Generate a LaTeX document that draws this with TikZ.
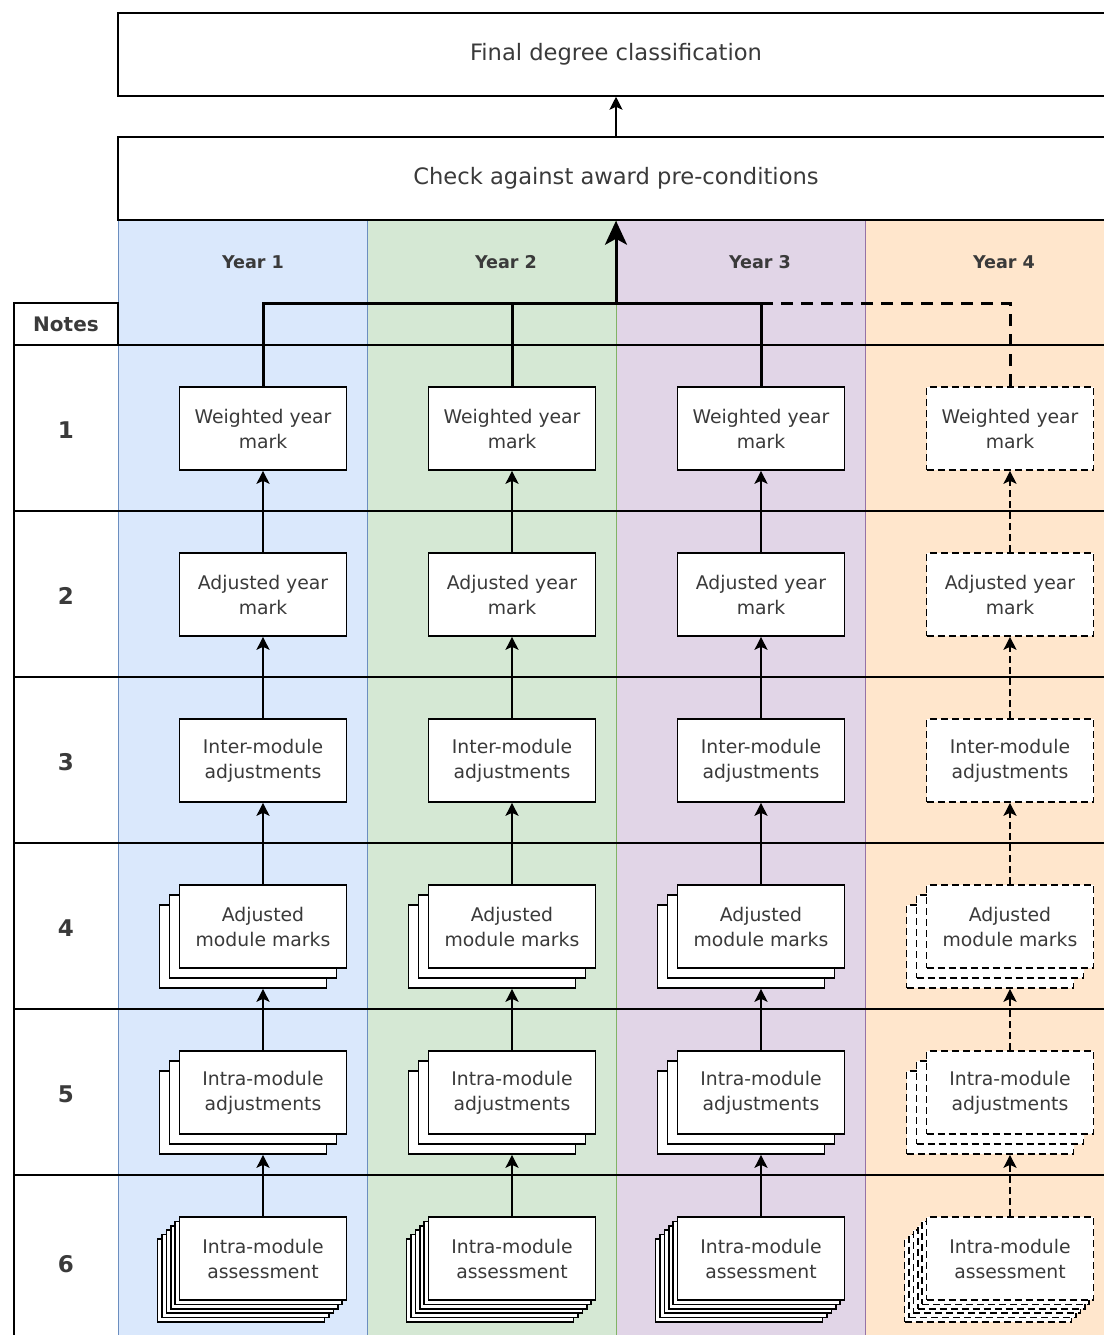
\documentclass[tikz,border=0pt]{standalone}
\usepackage{fontspec}
\setmainfont{DejaVu Sans}
\usetikzlibrary{arrows.meta,shadows}

\definecolor{yearAfill}{HTML}{DAE8FC}
\definecolor{yearAline}{HTML}{6C8EBF}
\definecolor{yearBfill}{HTML}{D5E8D4}
\definecolor{yearBline}{HTML}{82B366}
\definecolor{yearCfill}{HTML}{E1D5E7}
\definecolor{yearCline}{HTML}{9673A6}
\definecolor{yearDfill}{HTML}{FFE6CC}
\definecolor{yearDline}{HTML}{D79B00}
\definecolor{ink}{HTML}{3A3A3A}

\tikzset{
  markbox/.style={draw, fill=white, line width=0.8pt, minimum width=83.5pt,
    minimum height=41.5pt, inner sep=1pt, align=center, text=ink,
    font=\fontsize{9.4}{12.5}\selectfont},
  stackbox/.style={markbox,
    copy shadow={shadow xshift=-10pt, shadow yshift=-10pt},
    copy shadow={shadow xshift=-5pt, shadow yshift=-5pt}},
  pilebox/.style={markbox,
    copy shadow={shadow xshift=-11pt, shadow yshift=-11pt},
    copy shadow={shadow xshift=-8.8pt, shadow yshift=-8.8pt},
    copy shadow={shadow xshift=-6.6pt, shadow yshift=-6.6pt},
    copy shadow={shadow xshift=-4.4pt, shadow yshift=-4.4pt},
    copy shadow={shadow xshift=-2.2pt, shadow yshift=-2.2pt}},
  laterbox/.style={dash pattern=on 3.5pt off 2pt},
  uparrow/.style={line width=0.7pt, -{Stealth[length=6.5pt,width=6.5pt,inset=1.5pt]}},
  busline/.style={line width=1.5pt},
  bigbox/.style={draw, fill=white, line width=0.75pt, minimum width=498pt,
    minimum height=41.5pt, text=ink, font=\fontsize{11.3}{13}\selectfont},
  yearhead/.style={text=ink, font=\fontsize{8.8}{10}\selectfont\bfseries},
  rownum/.style={text=ink, font=\fontsize{11.5}{13}\selectfont\bfseries},
  gridline/.style={line width=0.7pt}
}

\begin{document}
\begin{tikzpicture}[x=0.5pt,y=-0.5pt]
        \useasboundingbox (0,0) rectangle (1104,1335);

        % year columns
        \draw[fill=yearDfill,draw=yearDline] (865,220) rectangle (1114,1345);
        \draw[fill=yearCfill,draw=yearCline] (616,220) rectangle (865,1345);
        \draw[fill=yearBfill,draw=yearBline] (367,220) rectangle (616,1345);
        \draw[fill=yearAfill,draw=yearAline] (118,220) rectangle (367,1345);

        \node[yearhead] (y1) at (253,262) {Year 1};
        \node[yearhead] (y2) at (506,262) {Year 2};
        \node[yearhead] (y3) at (760,262) {Year 3};
        \node[yearhead] (y4) at (1004,262) {Year 4};

        % notes table
        \node[draw, fill=white, line width=0.7pt, minimum width=52pt, minimum height=21pt,
              inner sep=0pt, text=ink, font=\fontsize{10}{12}\selectfont\bfseries] (notes) at (66,324) {Notes};
        \draw[gridline] (14,345) -- (14,1345);
        \draw[gridline] (14,345) -- (1114,345);
        \draw[gridline] (14,511) -- (1114,511);
        \draw[gridline] (14,677) -- (1114,677);
        \draw[gridline] (14,843) -- (1114,843);
        \draw[gridline] (14,1009) -- (1114,1009);
        \draw[gridline] (14,1175) -- (1114,1175);

        \node[rownum] (r1) at (66,430) {1};
        \node[rownum] (r2) at (66,596) {2};
        \node[rownum] (r3) at (66,762) {3};
        \node[rownum] (r4) at (66,928) {4};
        \node[rownum] (r5) at (66,1094) {5};
        \node[rownum] (r6) at (66,1264) {6};

        % top boxes
        \node[bigbox] (final) at (616,54.5) {Final degree classification};
        \node[bigbox] (check) at (616,178.5) {Check against award pre-conditions};
        \draw[uparrow] (check) -- (final);

        % year 1
        \node[markbox] (w1) at (263,428.5) {Weighted year\\mark};
        \node[markbox] (a1) at (263,594.5) {Adjusted year\\mark};
        \node[markbox] (i1) at (263,760.5) {Inter-module\\adjustments};
        \node[stackbox] (m1) at (263,926.5) {Adjusted\\module marks};
        \node[stackbox] (j1) at (263,1092.5) {Intra-module\\adjustments};
        \node[pilebox] (s1) at (263,1258.5) {Intra-module\\assessment};

        % year 2
        \node[markbox] (w2) at (512,428.5) {Weighted year\\mark};
        \node[markbox] (a2) at (512,594.5) {Adjusted year\\mark};
        \node[markbox] (i2) at (512,760.5) {Inter-module\\adjustments};
        \node[stackbox] (m2) at (512,926.5) {Adjusted\\module marks};
        \node[stackbox] (j2) at (512,1092.5) {Intra-module\\adjustments};
        \node[pilebox] (s2) at (512,1258.5) {Intra-module\\assessment};

        % year 3
        \node[markbox] (w3) at (761,428.5) {Weighted year\\mark};
        \node[markbox] (a3) at (761,594.5) {Adjusted year\\mark};
        \node[markbox] (i3) at (761,760.5) {Inter-module\\adjustments};
        \node[stackbox] (m3) at (761,926.5) {Adjusted\\module marks};
        \node[stackbox] (j3) at (761,1092.5) {Intra-module\\adjustments};
        \node[pilebox] (s3) at (761,1258.5) {Intra-module\\assessment};

        % year 4 (optional)
        \node[markbox,laterbox] (w4) at (1010,428.5) {Weighted year\\mark};
        \node[markbox,laterbox] (a4) at (1010,594.5) {Adjusted year\\mark};
        \node[markbox,laterbox] (i4) at (1010,760.5) {Inter-module\\adjustments};
        \node[stackbox,laterbox] (m4) at (1010,926.5) {Adjusted\\module marks};
        \node[stackbox,laterbox] (j4) at (1010,1092.5) {Intra-module\\adjustments};
        \node[pilebox,laterbox] (s4) at (1010,1258.5) {Intra-module\\assessment};

        \path[draw,uparrow] (a1) -- (w1);
        \path[draw,uparrow] (i1) -- (a1);
        \path[draw,uparrow] (m1) -- (i1);
        \path[draw,uparrow] (j1) -- ([yshift=-10pt]m1.south);
        \path[draw,uparrow] (s1) -- ([yshift=-10pt]j1.south);

        \path[draw,uparrow] (a2) -- (w2);
        \path[draw,uparrow] (i2) -- (a2);
        \path[draw,uparrow] (m2) -- (i2);
        \path[draw,uparrow] (j2) -- ([yshift=-10pt]m2.south);
        \path[draw,uparrow] (s2) -- ([yshift=-10pt]j2.south);

        \path[draw,uparrow] (a3) -- (w3);
        \path[draw,uparrow] (i3) -- (a3);
        \path[draw,uparrow] (m3) -- (i3);
        \path[draw,uparrow] (j3) -- ([yshift=-10pt]m3.south);
        \path[draw,uparrow] (s3) -- ([yshift=-10pt]j3.south);

        \path[draw,uparrow,laterbox] (a4) -- (w4);
        \path[draw,uparrow,laterbox] (i4) -- (a4);
        \path[draw,uparrow,laterbox] (m4) -- (i4);
        \path[draw,uparrow,laterbox] (j4) -- ([yshift=-10pt]m4.south);
        \path[draw,uparrow,laterbox] (s4) -- ([yshift=-10pt]j4.south);

        % weighted marks into the check
        \coordinate (bus) at (616,303);
        \draw[busline,dash pattern=on 6pt off 4pt] (w4) |- (bus);
        \draw[busline] (w1) |- (bus);
        \draw[busline] (w2) |- (bus);
        \draw[busline] (w3) |- (bus);
        \draw[busline,-{Stealth[length=12pt,width=11pt,inset=3pt]}] (bus) -- (check);
    \end{tikzpicture}
\end{document}
